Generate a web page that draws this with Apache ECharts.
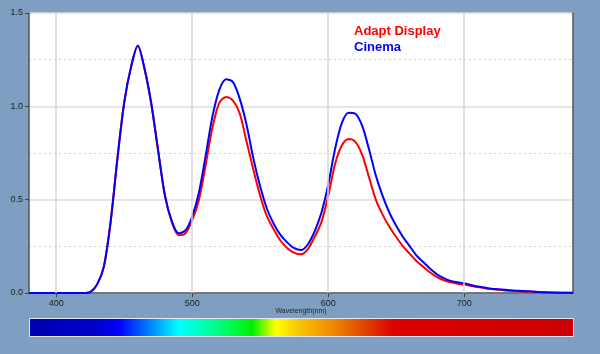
<!DOCTYPE html>
<html>
<head>
<meta charset="utf-8">
<script src="https://cdn.jsdelivr.net/npm/echarts@6/dist/echarts.min.js"></script>
<style>
html,body{margin:0;padding:0;background:#7e9fc1;}
#chart{width:600px;height:354px;}
</style>
</head>
<body>
<div id="chart"></div>
<script>
// wavelength grid (nm), 5nm steps
const wavelengths = [];
for (let w = 380; w <= 780; w += 5) wavelengths.push(w);

const cinema = [
  0,0,0,0,0,0,0,0,0,0.005,            // 380-425
  0.045,0.14,0.38,0.72,1.02,1.21,1.325,1.20,1.01,0.76, // 430-475
  0.52,0.385,0.32,0.335,0.41,0.54,0.74,0.95,1.09,1.145, // 480-525
  1.13,1.04,0.90,0.72,0.57,0.45,0.37,0.31,0.27,0.24,    // 530-575
  0.23,0.26,0.33,0.43,0.58,0.77,0.91,0.965,0.96,0.895,  // 580-625
  0.77,0.63,0.52,0.43,0.36,0.30,0.25,0.20,0.165,0.13,   // 630-675
  0.10,0.08,0.065,0.058,0.052,0.043,0.035,0.029,0.023,0.02, // 680-725
  0.017,0.014,0.012,0.01,0.008,0.006,0.004,0.003,0.002,0.001,0.001 // 730-780
];

const adaptDisplay = [
  0,0,0,0,0,0,0,0,0,0.005,
  0.045,0.14,0.38,0.72,1.02,1.21,1.325,1.20,1.01,0.76,
  0.52,0.38,0.31,0.32,0.39,0.50,0.69,0.89,1.02,1.05,
  1.03,0.96,0.81,0.66,0.52,0.41,0.34,0.28,0.24,0.215,
  0.207,0.235,0.30,0.38,0.52,0.69,0.79,0.825,0.81,0.74,
  0.62,0.50,0.42,0.355,0.30,0.25,0.21,0.17,0.14,0.11,
  0.085,0.068,0.057,0.05,0.045,0.038,0.032,0.026,0.021,0.017,
  0.014,0.012,0.01,0.008,0.007,0.005,0.003,0.002,0.001,0.001,0
];

const xTicks = [400, 500, 600, 700];

const chart = echarts.init(document.getElementById('chart'), null, {renderer:'canvas'});
const pair = arr => wavelengths.map((w,i)=>[w, arr[i]]);
const L = 29, R = 573, T = 13, B = 293;

chart.setOption({
  backgroundColor:'#7e9fc1',
  animation:false,
  textStyle:{fontFamily:'Liberation Sans, Arial, sans-serif'},
  grid:{left:L, right:600-R, top:T, bottom:354-B, show:true, backgroundColor:'#fff', borderWidth:0},
  legend:{
    left:349, top:20, orient:'vertical', itemGap:3, icon:'none', itemWidth:0, itemHeight:0,
    textStyle:{fontSize:13, fontWeight:'bold', padding:[0,0,0,-5]},
    data:[
      {name:'Adapt Display', textStyle:{color:'#ff0000'}},
      {name:'Cinema', textStyle:{color:'#0000ff'}}
    ]
  },
  xAxis:{
    type:'value', min:380, max:780,
    name:'Wavelength(nm)', nameLocation:'middle', nameGap:15, nameMoveOverlap:false,
    nameTextStyle:{fontSize:7, color:'#222', overflow:'none'},
    axisLine:{show:true, onZero:false, lineStyle:{color:'#555', width:1.5}},
    axisTick:{show:true, length:4, lineStyle:{color:'#444'}, customValues:xTicks},
    axisLabel:{fontSize:9, color:'#222', margin:6, customValues:xTicks},
    splitLine:{show:false}
  },
  yAxis:[{
    type:'value', min:0, max:1.5, interval:0.5,
    axisLine:{show:true, lineStyle:{color:'#555', width:1.5}},
    axisTick:{show:true, length:4, lineStyle:{color:'#444'}},
    axisLabel:{fontSize:9, color:'#222', margin:6, formatter:v=>v.toFixed(1)},
    splitLine:{show:true, lineStyle:{color:'#dcdcdc', width:1.5}},
    minorTick:{show:false, splitNumber:2},
    minorSplitLine:{show:true, lineStyle:{color:'#cdcdcd', type:[2,3], width:1}}
  },{
    type:'value', min:0, max:1.5, position:'right',
    axisLine:{show:true, lineStyle:{color:'#555', width:1.5}},
    axisTick:{show:false}, axisLabel:{show:false}, splitLine:{show:false}
  }],
  series:[
    {
      name:'Adapt Display', type:'line', data:pair(adaptDisplay), smooth:0.3,
      showSymbol:false, lineStyle:{color:'#ff0000', width:2}, itemStyle:{color:'#ff0000'}, z:2,
      markLine:{
        silent:true, symbol:'none', label:{show:false},
        lineStyle:{color:'#d6d6d6', width:1.5, type:'solid'},
        data:xTicks.map(v=>({xAxis:v}))
      }
    },
    {
      name:'Cinema', type:'line', data:pair(cinema), smooth:0.3,
      showSymbol:false, lineStyle:{color:'#0000ff', width:2}, itemStyle:{color:'#0000ff'}, z:3
    }
  ],
  graphic:[{
    type:'rect', left:L, top:318, z:10,
    shape:{width:R-L, height:18},
    style:{
      stroke:'#e4e8f0', lineWidth:1,
      fill:new echarts.graphic.LinearGradient(0,0,1,0,[
        {offset:0, color:'#0000b4'},
        {offset:0.12, color:'#0000c8'},
        {offset:0.165, color:'#0000ff'},
        {offset:0.22, color:'#0080ff'},
        {offset:0.276, color:'#00ffff'},
        {offset:0.34, color:'#00ff90'},
        {offset:0.41, color:'#00f000'},
        {offset:0.452, color:'#ffff00'},
        {offset:0.50, color:'#f5c000'},
        {offset:0.565, color:'#ee8000'},
        {offset:0.62, color:'#e04000'},
        {offset:0.67, color:'#dd0000'},
        {offset:1, color:'#cc0000'}
      ])
    }
  }]
});
</script>
</body>
</html>
